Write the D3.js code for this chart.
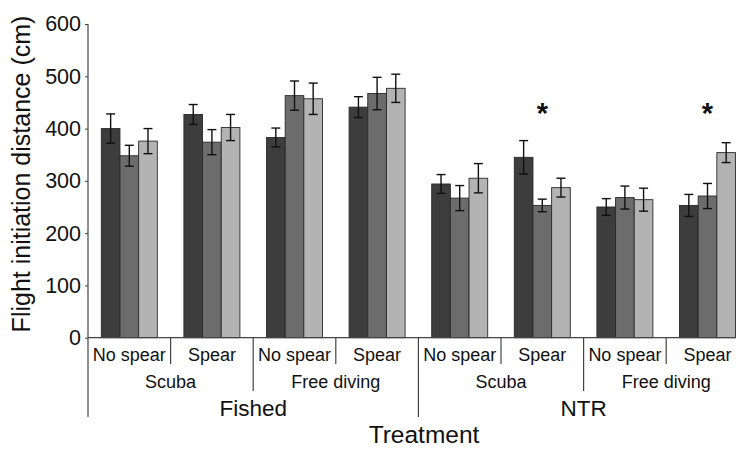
<!DOCTYPE html>
<html>
<head>
<meta charset="utf-8">
<script src="https://cdn.jsdelivr.net/npm/d3@7"></script>
<style>
  html, body { margin: 0; padding: 0; background: #fff; }
  svg { display: block; font-family: "Liberation Sans", Arial, Helvetica, sans-serif; }
</style>
</head>
<body>
<svg id="chart" width="736" height="449"></svg>
<script>
// ---- Data ----
const spearLabels = ["No spear", "Spear", "No spear", "Spear", "No spear", "Spear", "No spear", "Spear"];
const methodLabels = ["Scuba", "Free diving", "Scuba", "Free diving"];
const zoneLabels = ["Fished", "NTR"];
const seriesNames = ["s1", "s2", "s3"];
const series1 = [400, 427, 383, 441, 294, 345, 250, 253];
const series2 = [348, 374, 463, 467, 267, 253, 268, 271];
const series3 = [376, 402, 457, 477, 305, 287, 264, 354];
const err1 = [28, 19, 18, 20, 18, 32, 16, 21];
const err2 = [20, 24, 28, 31, 24, 12, 22, 24];
const err3 = [24, 25, 30, 27, 28, 18, 22, 19];
const significant = [false, false, false, false, false, true, false, true];
const yTicks = [0, 100, 200, 300, 400, 500, 600];
const colors = ["#3d3d3d", "#6c6c6c", "#b3b3b3"];

const values = [series1, series2, series3];
const errors = [err1, err2, err3];
const groups = d3.range(spearLabels.length);

// ---- Layout ----
const svg = d3.select("#chart");
const x0 = 88, step = 82.6;
const yScale = d3.scaleLinear().domain([0, 600]).range([337.7, 24]);
const xGroup = d3.scaleBand().domain(groups).range([x0, x0 + step * groups.length])
  .paddingInner(0.322).paddingOuter(0.161);
const xSeries = d3.scaleBand().domain(seriesNames).range([0, xGroup.bandwidth()]);

const axisColor = "#444";

// Bars
groups.forEach(g => {
  seriesNames.forEach((s, i) => {
    const v = values[i][g];
    svg.append("rect")
      .attr("x", xGroup(g) + xSeries(s))
      .attr("y", yScale(v))
      .attr("width", xSeries.bandwidth())
      .attr("height", yScale(0) - yScale(v))
      .attr("fill", colors[i])
      .attr("stroke", "#2a2a2a")
      .attr("stroke-width", 0.9);
  });
});

// Error bars
groups.forEach(g => {
  seriesNames.forEach((s, i) => {
    const v = values[i][g], e = errors[i][g];
    const cx = xGroup(g) + xSeries(s) + xSeries.bandwidth() / 2;
    const hi = yScale(v + e), lo = yScale(v - e);
    const gg = svg.append("g").attr("stroke", "#111").attr("stroke-width", 1.4);
    gg.append("line").attr("x1", cx).attr("x2", cx).attr("y1", hi).attr("y2", lo);
    gg.append("line").attr("x1", cx - 4.5).attr("x2", cx + 4.5).attr("y1", hi).attr("y2", hi);
    gg.append("line").attr("x1", cx - 4.5).attr("x2", cx + 4.5).attr("y1", lo).attr("y2", lo);
  });
});

// Asterisks
groups.forEach(g => {
  if (significant[g]) {
    svg.append("text")
      .attr("x", xGroup(g) + xGroup.bandwidth() / 2)
      .attr("y", 123)
      .attr("text-anchor", "middle")
      .attr("font-size", 29)
      .attr("font-weight", "bold")
      .attr("fill", "#111")
      .text("*");
  }
});

// Y axis
const yAxis = d3.axisLeft(yScale).tickValues(yTicks).tickSize(3).tickPadding(4);
const yg = svg.append("g").attr("transform", `translate(${x0},0)`).call(yAxis);
yg.select(".domain").remove();
yg.selectAll(".tick line").attr("stroke", axisColor);
yg.selectAll(".tick text").attr("font-size", 21.5).attr("fill", "#111")
  .attr("font-family", "Liberation Sans, Arial, sans-serif");
svg.append("line").attr("x1", x0).attr("x2", x0).attr("y1", yScale(600)).attr("y2", 417)
  .attr("stroke", axisColor).attr("stroke-width", 1.2);

// X axis baseline
svg.append("line").attr("x1", x0).attr("x2", 736).attr("y1", yScale(0)).attr("y2", yScale(0))
  .attr("stroke", axisColor).attr("stroke-width", 1.2);

// Hierarchical category labels
const base = yScale(0);
groups.forEach(g => {
  const left = x0 + g * step;
  if (g > 0) {
    let bottom = 364;
    if (g % 2 === 0) bottom = 391;
    if (g % 4 === 0) bottom = 417;
    svg.append("line").attr("x1", left).attr("x2", left).attr("y1", base).attr("y2", bottom)
      .attr("stroke", axisColor).attr("stroke-width", 1.2);
  }
  svg.append("text").attr("x", left + step / 2).attr("y", 361)
    .attr("text-anchor", "middle").attr("font-size", 18).attr("fill", "#111")
    .text(spearLabels[g]);
});
methodLabels.forEach((m, k) => {
  svg.append("text").attr("x", x0 + (k * 2 + 1) * step).attr("y", 388)
    .attr("text-anchor", "middle").attr("font-size", 18).attr("fill", "#111").text(m);
});
zoneLabels.forEach((z, k) => {
  svg.append("text").attr("x", x0 + (k * 4 + 2) * step).attr("y", 416)
    .attr("text-anchor", "middle").attr("font-size", 22.5).attr("fill", "#111").text(z);
});

// Axis titles
svg.append("text").attr("x", 424).attr("y", 443).attr("text-anchor", "middle")
  .attr("font-size", 24.5).attr("fill", "#111").text("Treatment");
svg.append("text").attr("transform", "translate(30,174) rotate(-90)")
  .attr("text-anchor", "middle").attr("font-size", 25).attr("fill", "#111")
  .text("Flight initiation distance (cm)");
</script>
</body>
</html>
